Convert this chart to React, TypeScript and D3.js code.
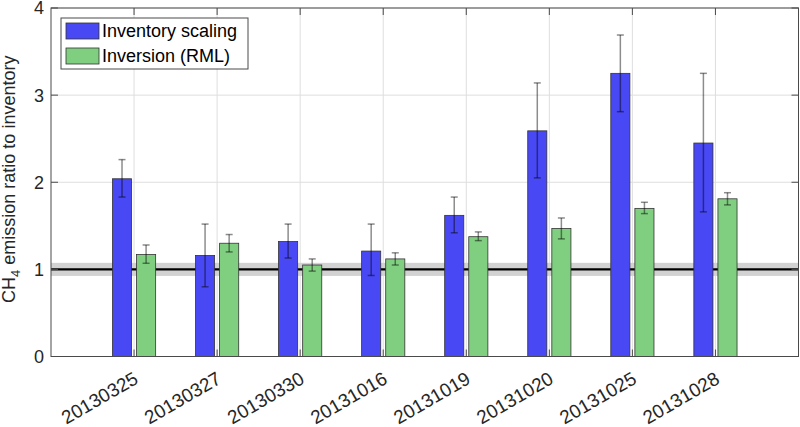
import React from "react";
import * as d3 from "d3";

const dates = ["20130325", "20130327", "20130330", "20131016", "20131019", "20131020", "20131025", "20131028"];
const invScaling = [2.04, 1.16, 1.32, 1.21, 1.62, 2.59, 3.25, 2.45];
const invLo = [1.83, 0.8, 1.13, 0.93, 1.42, 2.05, 2.81, 1.66];
const invHi = [2.26, 1.52, 1.52, 1.52, 1.83, 3.14, 3.69, 3.25];
const rml = [1.17, 1.3, 1.05, 1.12, 1.375, 1.47, 1.7, 1.81];
const rmlLo = [1.07, 1.2, 0.98, 1.05, 1.33, 1.35, 1.64, 1.74];
const rmlHi = [1.28, 1.4, 1.12, 1.19, 1.43, 1.59, 1.77, 1.88];
const yTicks = [0, 1, 2, 3, 4];
const refValue = 1;
const refBand = 0.075;
const seriesNames = ["Inventory scaling", "Inversion (RML)"];

const W = 800;
const H = 427;
const L = 51;
const R = 798.5;
const T = 8;
const B = 356.5;
const FONT = "'Liberation Sans', Arial, Helvetica, sans-serif";
const BLUE = "#4848f4";
const GREEN = "#80cf80";
const AXIS = "#4a4a4a";

export default function App() {
  const x = d3.scaleLinear().domain([0, dates.length + 1]).range([L, R]);
  const y = d3.scaleLinear().domain([0, 4]).range([B, T]);
  const unit = x(1) - x(0);
  const bw = 0.23 * unit;
  const off = 0.145 * unit;
  const cap = 3.5;

  const series = [
    { vals: invScaling, lo: invLo, hi: invHi, color: BLUE, dx: -off },
    { vals: rml, lo: rmlLo, hi: rmlHi, color: GREEN, dx: off },
  ];

  return (
    <svg width={W} height={H} style={{ position: "absolute", left: 0, top: 0, background: "#fff" }} fontFamily={FONT}>
      <rect x={0} y={0} width={W} height={H} fill="#fff" />
      {/* grid */}
      {yTicks.map((t) => (
        <line key={"gy" + t} x1={L} x2={R} y1={y(t)} y2={y(t)} stroke="#dedede" strokeWidth={1} />
      ))}
      {dates.map((d, i) => (
        <line key={"gx" + d} x1={x(i + 1)} x2={x(i + 1)} y1={T} y2={B} stroke="#dedede" strokeWidth={1} />
      ))}
      {/* reference band & line */}
      <rect x={L} width={R - L} y={y(refValue + refBand)} height={y(refValue - refBand) - y(refValue + refBand)} fill="#d2d2d2" />
      <line x1={L} x2={R} y1={y(refValue)} y2={y(refValue)} stroke="#000" strokeWidth={2.2} />
      {/* bars */}
      {series.map((s, si) =>
        s.vals.map((v, i) => {
          const cx = x(i + 1) + s.dx;
          return (
            <rect
              key={"b" + si + "-" + i}
              x={cx - bw / 2}
              width={bw}
              y={y(v)}
              height={y(0) - y(v)}
              fill={s.color}
              stroke="#333"
              strokeWidth={0.8}
            />
          );
        })
      )}
      {/* error bars */}
      {series.map((s, si) =>
        s.vals.map((v, i) => {
          const cx = x(i + 1) + s.dx;
          return (
            <g key={"e" + si + "-" + i} stroke="#000" strokeOpacity={0.45} strokeWidth={1.5}>
              <line x1={cx} x2={cx} y1={y(s.hi[i])} y2={y(s.lo[i])} />
              <line x1={cx - cap} x2={cx + cap} y1={y(s.hi[i])} y2={y(s.hi[i])} />
              <line x1={cx - cap} x2={cx + cap} y1={y(s.lo[i])} y2={y(s.lo[i])} />
            </g>
          );
        })
      )}
      {/* axes box */}
      <rect x={L} y={T} width={R - L} height={B - T} fill="none" stroke={AXIS} strokeWidth={1} />
      {/* ticks */}
      {yTicks.map((t) => (
        <g key={"ty" + t} stroke={AXIS} strokeWidth={1}>
          <line x1={L} x2={L + 7} y1={y(t)} y2={y(t)} />
          <line x1={R} x2={R - 7} y1={y(t)} y2={y(t)} />
        </g>
      ))}
      {dates.map((d, i) => (
        <g key={"tx" + d} stroke={AXIS} strokeWidth={1}>
          <line x1={x(i + 1)} x2={x(i + 1)} y1={B} y2={B - 7} />
          <line x1={x(i + 1)} x2={x(i + 1)} y1={T} y2={T + 7} />
        </g>
      ))}
      {/* y tick labels */}
      {yTicks.map((t) => (
        <text key={"yl" + t} x={44} y={y(t)} dy="0.36em" textAnchor="end" fontSize={18} fill="#262626">
          {t}
        </text>
      ))}
      {/* x tick labels */}
      {dates.map((d, i) => (
        <text
          key={"xl" + d}
          transform={`translate(${x(i + 1) + 2},${B + 20}) rotate(-30)`}
          textAnchor="end"
          dy="0.36em"
          fontSize={19}
          fill="#262626"
        >
          {d}
        </text>
      ))}
      {/* y label */}
      <text transform={`translate(15,${(T + B) / 2 - 3}) rotate(-90)`} textAnchor="middle" fontSize={18} fill="#262626">
        CH<tspan fontSize={13} dy={5}>4</tspan>
        <tspan dy={-5}> emission ratio to inventory</tspan>
      </text>
      {/* legend */}
      <rect x={61} y={18} width={187} height={51} fill="#fff" stroke={AXIS} strokeWidth={1} />
      {seriesNames.map((n, i) => (
        <g key={"lg" + i}>
          <rect x={66} y={23 + i * 25} width={33} height={16} fill={series[i].color} stroke="#333" strokeWidth={0.8} />
          <text x={102} y={31 + i * 25} dy="0.36em" fontSize={18} fill="#000">
            {n}
          </text>
        </g>
      ))}
    </svg>
  );
}
